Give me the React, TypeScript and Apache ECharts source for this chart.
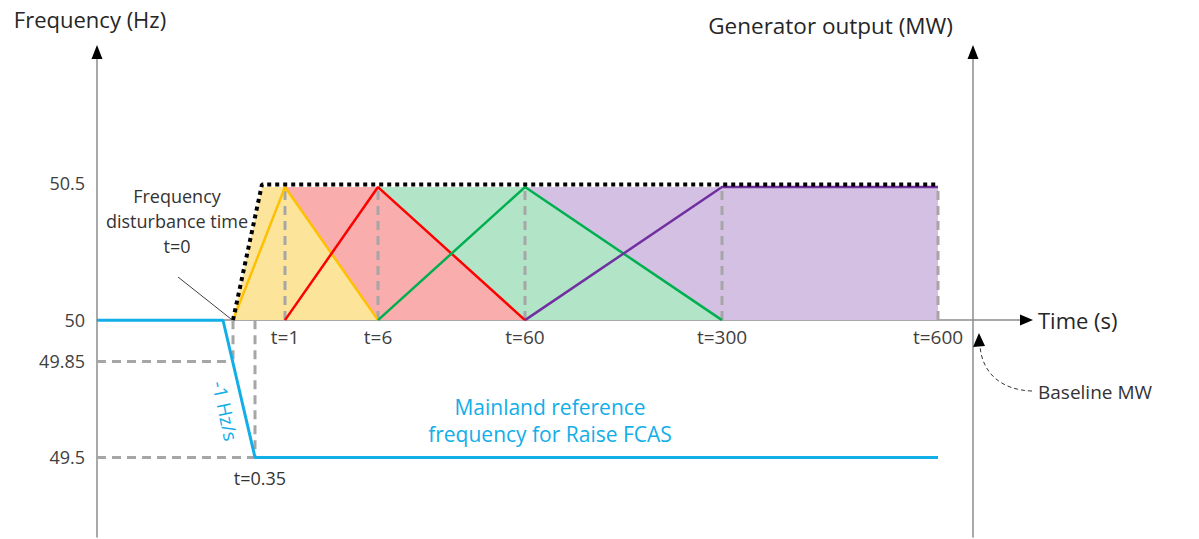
import React, { useEffect, useRef } from "react";
import * as echarts from "echarts";

// Schematic (non-proportional) time axis: each key time has a slot on the x axis
const timeKeys = ["origin", "-0.15", "0", "0.35", "0.7", "1", "6", "60", "300", "600"];
const timeSlots = [0, 126, 136, 158, 165, 188, 281, 428, 625, 841];
const axisTimeLabels = ["1", "6", "60", "300", "600"];

// Frequency trace (Hz)
const freqTimes = ["origin", "-0.15", "0.35", "600"];
const freqValues = [50, 50, 49.5, 49.5];
const yTickValues = [50.5, 50, 49.85, 49.5];

// Generator output (normalised MW) for the four Raise FCAS services
const yellowTimes = ["0", "1", "6"];
const yellowValues = [0, 1, 0];
const redTimes = ["1", "6", "60"];
const redValues = [0, 1, 0];
const greenTimes = ["6", "60", "300"];
const greenValues = [0, 1, 0];
const purpleTimes = ["60", "300", "600"];
const purpleValues = [0, 1, 1];

// Filled regions
const yellowFillTimes = ["0", "0.7", "1", "6"];
const yellowFillValues = [0, 1, 1, 0];
const redFillTimes = ["1", "6", "60"];
const redFillValues = [1, 1, 0];
const greenFillTimes = ["6", "60", "300"];
const greenFillValues = [1, 1, 0];
const purpleFillTimes = ["60", "600"];
const purpleFillValues = [1, 1];

// Total output envelope
const envelopeTimes = ["0", "0.7", "600"];
const envelopeValues = [0, 1.02, 1.02];

const mwDashTimes = ["1", "6", "60", "300", "600"];

const FONT = '"Open Sans", "Noto Sans", sans-serif';

const slot = (t: string) => timeSlots[timeKeys.indexOf(t)];
const pts = (times: string[], values: number[], shift = 0) =>
  times.map((t, i) => [slot(t), values[i] - shift]);

export default function App() {
  const ref = useRef<HTMLDivElement>(null);
  useEffect(() => {
    if (!ref.current) return;
    const chart = echarts.init(ref.current, undefined, { renderer: "svg" });

    const area = (name: string, data: number[][], color: string) => ({
      name,
      type: "line",
      yAxisIndex: 1,
      data,
      symbol: "none",
      lineStyle: { width: 0 },
      areaStyle: { color, opacity: 1 },
      silent: true,
    });
    const line = (name: string, data: number[][], color: string, yAxisIndex = 1, width = 2.5, type: any = "solid") => ({
      name,
      type: "line",
      yAxisIndex,
      data,
      symbol: "none",
      lineStyle: { color, width, type, cap: "butt" },
      silent: true,
    });

    const dashGray = "#a6a6a6";
    const dash = [9, 6];
    const axisColor = "#8c8c8c";

    const series: any[] = [
      area("purpleFill", pts(purpleFillTimes, purpleFillValues), "#d4c0e3"),
      area("greenFill", pts(greenFillTimes, greenFillValues), "#b2e5c8"),
      area("redFill", pts(redFillTimes, redFillValues), "#f9adad"),
      area("yellowFill", pts(yellowFillTimes, yellowFillValues), "#fde49b"),
      ...mwDashTimes.map((t) =>
        line("dash" + t, [[slot(t), 0], [slot(t), 1]], dashGray, 1, 3, dash)
      ),
      line("yellow", pts(yellowTimes, yellowValues), "#ffc000"),
      line("red", pts(redTimes, redValues), "#ff0000"),
      line("green", pts(greenTimes, greenValues), "#00b050"),
      line("purple", pts(purpleTimes, purpleValues), "#7030a0"),
      // frequency guide lines
      line("h4985", [[slot("origin"), yTickValues[2] - 50], [slot("0"), yTickValues[2] - 50]], dashGray, 0, 3, dash),
      line("h495", [[slot("origin"), yTickValues[3] - 50], [slot("0.35"), yTickValues[3] - 50]], dashGray, 0, 3, dash),
      line("v0", [[slot("0"), 0], [slot("0"), yTickValues[2] - 50]], dashGray, 0, 3, dash),
      line("v035", [[slot("0.35"), 0], [slot("0.35"), yTickValues[3] - 50]], dashGray, 0, 3, dash),
      line("frequency", pts(freqTimes, freqValues, 50), "#12aee8", 0, 3),
      line("envelope", pts(envelopeTimes, envelopeValues), "#000000", 1, 4, "dotted"),
    ];

    const txt = (text: string, x: number, y: number, opts: any = {}) => ({
      type: "text",
      x,
      y,
      rotation: opts.rotation || 0,
      z: 100,
      style: {
        text,
        fill: opts.fill || "#333333",
        fontSize: opts.fontSize || 18,
        fontFamily: FONT,
        align: opts.align || "center",
        textAlign: opts.align || "center",
        verticalAlign: "middle",
        textVerticalAlign: "middle",
        lineHeight: opts.lineHeight || 25,
      },
    });
    const arrow = (points: number[][]) => ({
      type: "polygon",
      z: 100,
      shape: { points },
      style: { fill: "#000000" },
    });

    chart.setOption({
      animation: false,
      backgroundColor: "#ffffff",
      textStyle: { fontFamily: FONT },
      grid: { left: 97, right: 169, top: 50, bottom: 2, containLabel: false, outerBoundsMode: "none" },
      xAxis: {
        type: "value",
        min: 0,
        max: 933,
        position: "bottom",
        offset: -217,
        axisLine: {
          show: true,
          onZero: false,
          lineStyle: { color: axisColor, width: 1.5 },
        },
        axisTick: { show: false },
        splitLine: { show: false },
        axisLabel: {
          customValues: axisTimeLabels.map(slot),
          formatter: (v: number) => "t=" + timeKeys[timeSlots.indexOf(v)],
          margin: 7,
          fontSize: 19,
          color: "#404040",
          fontFamily: FONT,
        },
        name: "Time (s)",
        nameLocation: "end",
        nameGap: 8,
        nameTextStyle: { fontSize: 22, color: "#262626", fontFamily: FONT },
      },
      yAxis: [
        {
          type: "value",
          min: -0.79,
          max: 0.985,
          axisLine: {
            show: true,
            onZero: false,
            lineStyle: { color: axisColor, width: 1.5 },
          },
          axisTick: { show: false },
          splitLine: { show: false },
          axisLabel: {
            customValues: yTickValues.map((v) => v - 50),
            formatter: (v: number) => String(+(50 + v).toFixed(2)),
            margin: 12,
            fontSize: 18,
            color: "#404040",
            fontFamily: FONT,
          },
          name: "Frequency (Hz)",
          nameLocation: "end",
          nameGap: 20,
          nameTextStyle: { fontSize: 22, color: "#262626", fontFamily: FONT, padding: [0, 14, 0, 0] },
        },
        {
          type: "value",
          position: "right",
          offset: -57,
          min: -1.63,
          max: 2.03,
          axisLine: {
            show: true,
            onZero: false,
            lineStyle: { color: axisColor, width: 1.5 },
          },
          axisTick: { show: false },
          splitLine: { show: false },
          axisLabel: { show: false },
          name: "Generator output (MW)",
          nameLocation: "end",
          nameGap: 13,
          nameTextStyle: { fontSize: 22.5, color: "#262626", fontFamily: FONT, align: "right", padding: [0, 20, 0, 0] },
        },
      ],
      series,
      graphic: [
        arrow([[97, 45], [91.5, 59], [102.5, 59]]),
        arrow([[973, 45], [967.5, 59], [978.5, 59]]),
        arrow([[1033, 320], [1020, 314.5], [1020, 325.5]]),
        txt("Frequency\ndisturbance time\nt=0", 177, 221),
        { type: "line", z: 100, shape: { x1: 178, y1: 277, x2: 231, y2: 319 }, style: { stroke: "#404040", lineWidth: 1 } },
        txt("-1 Hz/s", 225, 411, { fill: "#12aee8", rotation: -1.36, fontSize: 19 }),
        txt("Mainland reference\nfrequency for Raise FCAS", 550, 420, { fill: "#12aee8", fontSize: 21, lineHeight: 27 }),
        txt("t=0.35", 260, 478),
        txt("Baseline MW", 1038, 392, { align: "left", fontSize: 19 }),
        {
          type: "bezierCurve",
          z: 100,
          shape: { x1: 1032, y1: 391, cpx1: 1000, cpy1: 390, cpx2: 982, cpy2: 372, x2: 980, y2: 346 },
          style: { stroke: "#333333", lineWidth: 1, lineDash: [4, 3], fill: "none" },
        },
        arrow([[979, 333], [973, 347], [985, 346]]),
      ],
    });
    return () => chart.dispose();
  }, []);
  return <div ref={ref} style={{ position: "fixed", left: 0, top: 0, width: 1199, height: 539 }} />;
}
